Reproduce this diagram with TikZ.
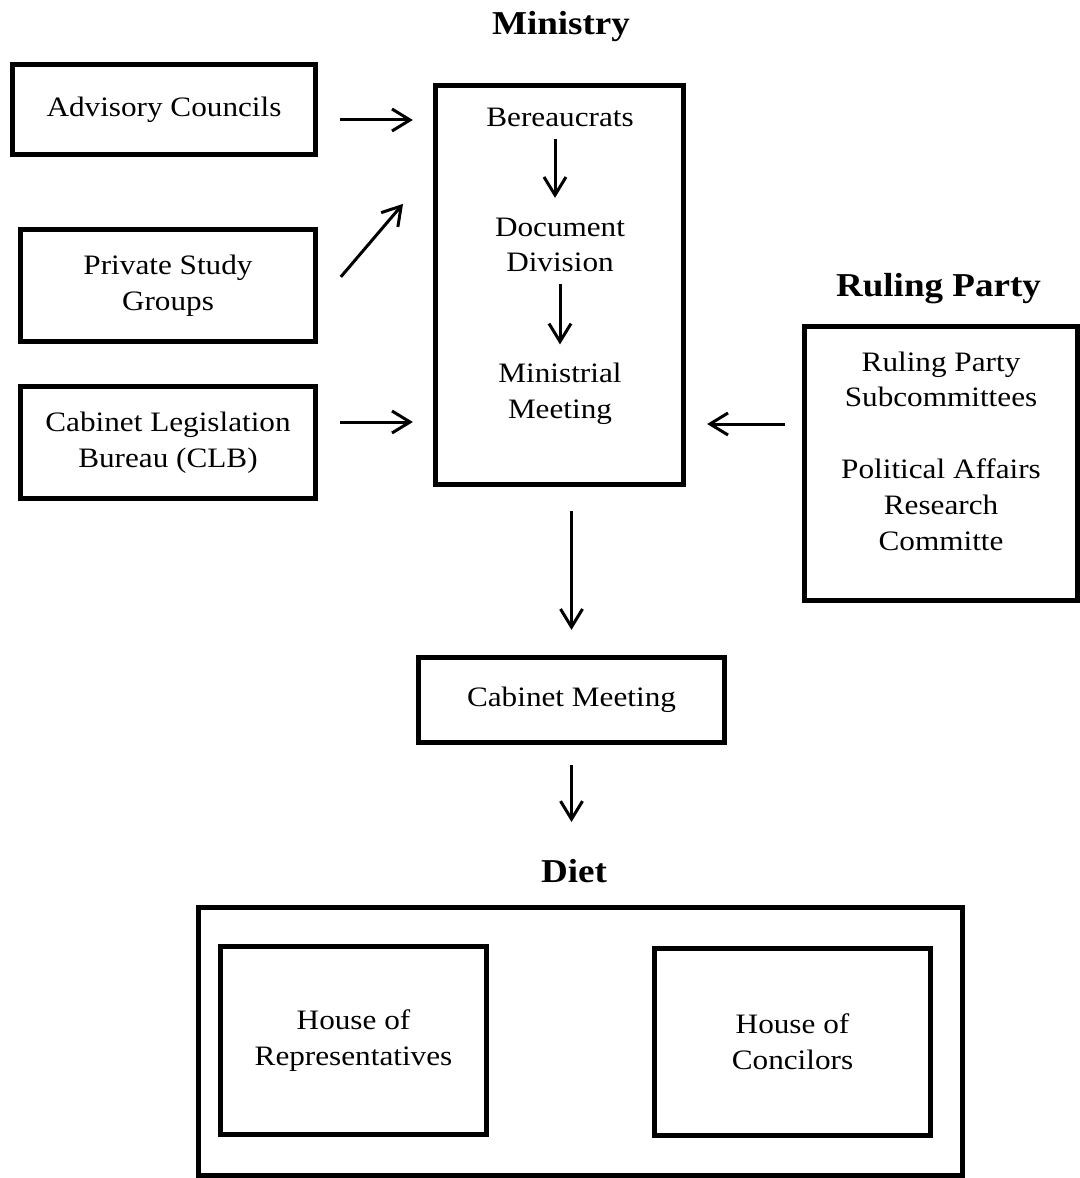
\documentclass[tikz,border=0pt]{standalone}
\usepackage{fontspec}
\setmainfont{Liberation Serif}[FakeStretch=1.11]
\usetikzlibrary{arrows.meta,calc}
\tikzset{
    txt/.style={font=\fontsize{16}{20.4}\selectfont, align=center, inner sep=0pt},
    box/.style={txt, draw, line width=0.095cm},
    ttl/.style={font=\fontsize{19}{22}\selectfont\bfseries, inner sep=0pt, anchor=base},
    arr/.style={-{Straight Barb[length=0.36cm, width=0.44cm]}, line width=0.06cm}
}
\begin{document}
\begin{tikzpicture}
    \useasboundingbox (0,0) rectangle (21.6,-23.56);

    % Titles
    \node[ttl] (minT) at (11.22,-0.70) {Ministry};
    \node[ttl] (rpT) at (18.77,-5.93) {Ruling Party};
    \node[ttl] (dietT) at (11.48,-17.65) {Diet};

    % Left inputs
    \node[box, minimum width=6.07cm, minimum height=1.81cm] (adv) at (3.28,-2.19) {Advisory Councils};
    \node[box, minimum width=5.91cm, minimum height=2.25cm] (psg) at (3.36,-5.71) {Private Study\\Groups};
    \node[box, minimum width=5.91cm, minimum height=2.25cm] (clb) at (3.36,-8.85) {Cabinet Legislation\\Bureau (CLB)};

    % Ministry
    \node[box, minimum width=4.97cm, minimum height=7.99cm] (min) at (11.19,-5.70) {};
    \node[txt] (bur) at (11.20,-2.35) {Bereaucrats};
    \node[txt] (doc) at (11.20,-4.90) {Document\\Division};
    \node[txt] (mm) at (11.20,-7.88) {Ministrial\\Meeting};

    % Ruling party
    \node[box, minimum width=5.47cm, minimum height=5.49cm] (rp) at (18.82,-9.27) {};
    \node[txt] (rpTxt) at (18.82,-9.02) {Ruling Party\\Subcommittees\\[20.4pt]Political Affairs\\Research\\Committe};

    % Cabinet and Diet
    \node[box, minimum width=6.13cm, minimum height=1.71cm] (cab) at (11.43,-14.00) {Cabinet Meeting};
    \node[box, minimum width=15.29cm, minimum height=5.37cm] (diet) at (11.61,-20.83) {};
    \node[box, minimum width=5.33cm, minimum height=3.77cm] (hor) at (7.07,-20.81) {House of\\Representatives};
    \node[box, minimum width=5.53cm, minimum height=3.75cm] (hoc) at (15.85,-20.84) {House of\\Concilors};

    % Arrows
    \draw[arr, shorten <=0.44cm, shorten >=0.40cm] ([yshift=-0.21cm]adv.east) -- ([yshift=-0.21cm]adv.east -| min.west);
    \draw[arr, shorten <=0.70cm, shorten >=0.92cm] ([yshift=-0.36cm]psg.east) -- ([yshift=-1.72cm]min.north west);
    \draw[arr, shorten <=0.44cm, shorten >=0.40cm] ([yshift=0.41cm]clb.east) -- ([yshift=0.41cm]clb.east -| min.west);
    \draw[arr, shorten <=0.34cm, shorten >=0.42cm] ([yshift=0.79cm]rp.west) -- ([yshift=0.79cm]rp.west -| min.east);
    \draw[arr, shorten <=0.24cm, shorten >=0.39cm] ([xshift=-0.1cm]bur.south) -- ([xshift=-0.1cm]doc.north);
    \draw[arr, shorten <=0.23cm, shorten >=0.37cm] (doc.south) -- (mm.north);
    \draw[arr, shorten <=0.48cm, shorten >=0.50cm] (min.south -| cab.north) -- (cab.north);
    \draw[arr, shorten <=0.40cm, shorten >=0.74cm] (cab.south) -- (cab.south |- dietT.north);
\end{tikzpicture}
\end{document}
